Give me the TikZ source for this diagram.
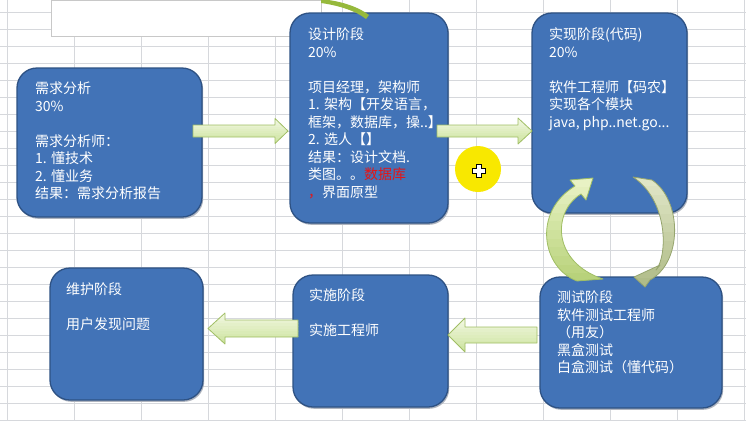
\documentclass[tikz,border=0pt]{standalone}
\usepackage{fontspec}
\newfontfamily\cjk{Noto Sans CJK SC}
\usetikzlibrary{calc}
\definecolor{boxfill}{RGB}{66,115,183}
\definecolor{boxline}{RGB}{46,82,132}
\definecolor{shadowc}{RGB}{175,180,190}
\definecolor{gridc}{RGB}{214,216,220}
\definecolor{arrline}{RGB}{160,190,100}
\definecolor{arrtop}{RGB}{242,248,226}
\definecolor{arrbot}{RGB}{204,227,158}
\definecolor{carrtop}{RGB}{232,242,196}
\definecolor{carrbot}{RGB}{184,210,122}
\definecolor{garrtop}{RGB}{224,230,198}
\definecolor{garrbot}{RGB}{176,188,136}
\definecolor{garrline}{RGB}{150,165,110}
\definecolor{topcurve}{RGB}{150,185,60}
\definecolor{yellowc}{RGB}{248,232,0}
\definecolor{redtxt}{RGB}{230,20,20}
% band gradient inside the saved path #1, colours #2 (top) to #3 (bottom), y from #4 to #5 (px, downwards)
\newcommand\bandfill[5]{%
  \begin{scope}
    \path[use path=#1, clip];
    \foreach \k in {0,...,11} {%
      \pgfmathtruncatemacro\pct{100-\k*9}%
      \pgfmathsetmacro\ya{#4+(#5-#4)*\k/12}%
      \pgfmathsetmacro\yb{#4+(#5-#4)*(\k+1)/12+0.6}%
      \fill[#2!\pct!#3] (0,\ya) rectangle (746,\yb);
    }
  \end{scope}}
\newcommand\blockarrow[7]{% from, to, body half, head half, head length, y top, y bottom
  \coordinate (hb) at ($(#2)!#5!(#1)$);
  \path[save path=\arrpath] ($(#1)!#3!90:(#2)$) -- ($(hb)!#3!90:(#2)$) -- ($(hb)!#4!90:(#2)$)
    -- (#2) -- ($(hb)!#4!-90:(#2)$) -- ($(hb)!#3!-90:(#2)$) -- ($(#1)!#3!-90:(#2)$) -- cycle;
  \bandfill{\arrpath}{arrtop}{arrbot}{#6}{#7}
  \path[use path=\arrpath, draw=arrline, line width=0.8pt, line join=round];
}
\begin{document}
\begin{tikzpicture}[x=1pt,y=-1pt,
  stage/.style={draw=boxline, line width=1.3pt, fill=boxfill, rounded corners=20pt,
    inner sep=0pt, preaction={fill=shadowc, transform canvas={xshift=1.2pt, yshift=-1.8pt}}},
  txt/.style={anchor=north west, inner sep=0pt, text=white, align=left,
    font=\cjk\fontsize{14}{17.5}\selectfont}]
\useasboundingbox (0,0) rectangle (746,421);
\fill[white] (0,0) rectangle (746,421);
% grid
\foreach \gx in {7,74,...,744} \draw[gridc, line width=0.8pt] (\gx,0) -- (\gx,421);
\foreach \gy in {12,29,...,420} \draw[gridc, line width=0.8pt] (0,\gy) -- (746,\gy);
% white note box at top
\node[draw={rgb,255:red,200;green,200;blue,200}, fill=white, line width=0.8pt, inner sep=0pt,
  minimum width=270pt, minimum height=36pt] (note) at (186,18) {};
% stage boxes
\node[stage, minimum width=185pt, minimum height=149pt] (b1) at (109.5,142.5) {};
\node[stage, minimum width=158pt, minimum height=210pt] (b2) at (369,118) {};
\node[stage, minimum width=155pt, minimum height=200pt] (b3) at (609.5,113) {};
\node[stage, minimum width=182pt, minimum height=131pt] (b4) at (631,342.5) {};
\node[stage, minimum width=155pt, minimum height=132pt] (b5) at (370.5,341) {};
\node[stage, minimum width=153pt, minimum height=132pt] (b6) at (126.5,334) {};
% block arrows
\coordinate (a1s) at (193,131); \coordinate (a1e) at (288,131);
\coordinate (a2s) at (437,131); \coordinate (a2e) at (532,131);
\coordinate (a3s) at (298,328.5); \coordinate (a3e) at (208,328.5);
\coordinate (a4s) at (537,335); \coordinate (a4e) at (448,335);
\blockarrow{a1s}{a1e}{6pt}{12.5pt}{13pt}{118}{144}
\blockarrow{a2s}{a2e}{6pt}{13pt}{14pt}{118}{144}
\blockarrow{a3s}{a3e}{8.5pt}{15.5pt}{17pt}{313}{344}
\blockarrow{a4s}{a4e}{8pt}{17pt}{17pt}{318}{352}
% curved arrows between b3 and b4
\path[save path=\curvl] (577,281) .. controls (542,268) and (532,212) .. (575,186)
  -- (570,180) -- (593,178) -- (586,200) -- (581,194)
  .. controls (552,212) and (552,262) .. (603,279) -- cycle;
\bandfill{\curvl}{carrtop}{carrbot}{178}{282}
\path[use path=\curvl, draw=arrline, line width=0.8pt, line join=round];
\path[save path=\curvr] (633,177) -- (652,180) .. controls (682,200) and (683,262) .. (650,280)
  -- (645,287) -- (634,277) -- (660,265) -- (656,270)
  .. controls (668,255) and (668,200) .. (633,177) -- cycle;
\bandfill{\curvr}{garrtop}{garrbot}{177}{287}
\path[use path=\curvr, draw=garrline, line width=0.8pt, line join=round];
% pointer highlight
\fill[yellowc] (478,169) circle (23pt);
\path[fill=white, draw=black, line width=1pt, line join=miter]
  (476.5,164.5) -- (481.5,164.5) -- (481.5,168.5) -- (485.5,168.5) -- (485.5,173.5)
  -- (481.5,173.5) -- (481.5,177.5) -- (476.5,177.5) -- (476.5,173.5) -- (472.5,173.5)
  -- (472.5,168.5) -- (476.5,168.5) -- cycle;
% texts
\node[txt] (t1) at (35,81.7) {需求分析\\30\%\\[17.5pt]需求分析师：\\1. 懂技术\\2. 懂业务\\结果：需求分析报告};
\node[txt] (t2) at (308,27.7) {设计阶段\\20\%\\[17.5pt]项目经理，架构师\\1. 架构【开发语言，\\框架，数据库，操..】\\2. 选人【】\\结果：设计文档.\\类图。。\textcolor{redtxt}{数据库}\\\textcolor{redtxt}{，}界面原型};
\node[txt] (t3) at (549,27.7) {实现阶段(代码)\\20\%\\[17.5pt]软件工程师【码农】\\实现各个模块\\java, php..net.go...};
\node[txt] (t4) at (557,290.7) {测试阶段\\软件测试工程师\\（用友）\\黑盒测试\\白盒测试（懂代码）};
\node[txt] (t5) at (309,288.7) {实施阶段\\[17.5pt]实施工程师};
\node[txt] (t6) at (66,282.7) {维护阶段\\[17.5pt]用户发现问题};
% green curve end at the top edge (a shape above the picture)
\fill[topcurve] (321,-1) .. controls (340,1) and (357,6) .. (369,15)
  -- (366,19) .. controls (356,11) and (339,5.5) .. (321,3) -- cycle;
\end{tikzpicture}
\end{document}
